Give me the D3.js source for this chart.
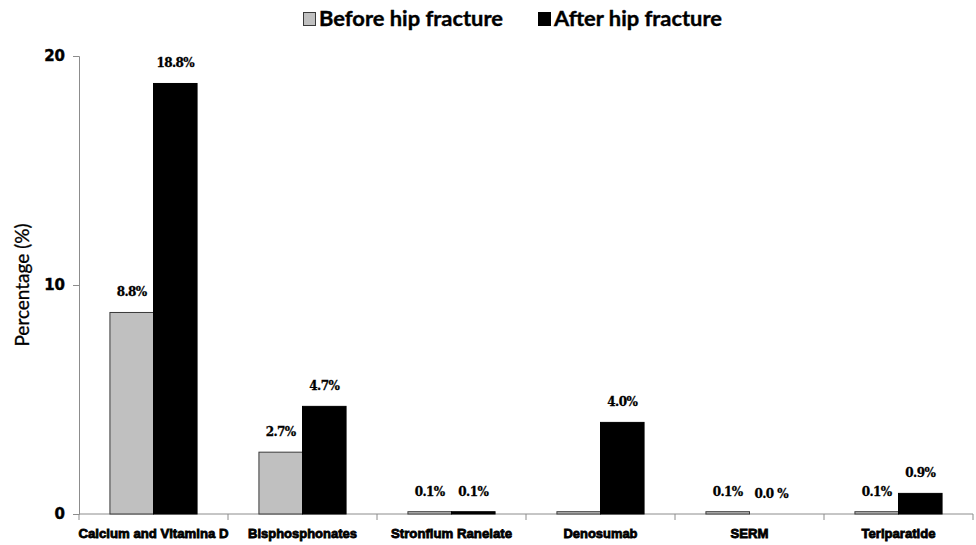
<!DOCTYPE html>
<html>
<head>
<meta charset="utf-8">
<script src="https://cdn.jsdelivr.net/npm/d3@7"></script>
<style>
  html, body { margin: 0; padding: 0; background: #fff; }
  svg { display: block; }
</style>
</head>
<body>
<svg id="chart" width="976" height="545"></svg>
<script>
// Osteoporosis treatment use before / after hip fracture
const categories = ["Calcium and Vitamina D", "Bisphosphonates", "Stronfium Ranelate", "Denosumab", "SERM", "Teriparatide"];
const beforeValues = [8.8, 2.7, 0.1, 0.1, 0.1, 0.1];
const afterValues = [18.8, 4.7, 0.1, 4.0, 0.0, 0.9];
const beforeLabels = ["8.8%", "2.7%", "0.1%", null, "0.1%", "0.1%"];
const afterLabels = ["18.8%", "4.7%", "0.1%", "4.0%", "0.0 %", "0.9%"];
const seriesNames = ["Before hip fracture", "After hip fracture"];
const yTicks = [0, 10, 20];

const svg = d3.select("#chart");
const margin = { left: 79, right: 3, top: 56, bottom: 31 };
const W = 976, H = 545;

const x = d3.scaleBand().domain(categories).range([margin.left, W - margin.right]).paddingInner(0).paddingOuter(0);
const inner = d3.scaleBand().domain([0, 1]).range([0, x.bandwidth()]).paddingInner(0).paddingOuter(0.71);
const y = d3.scaleLinear().domain([0, 20]).range([H - margin.bottom, margin.top]);

const fills = ["#c0c0c0", "#000000"];
const strokes = ["#3a3a3a", "#000000"];

// Y axis
const yAxis = svg.append("g")
  .attr("transform", `translate(${margin.left},0)`)
  .call(d3.axisLeft(y).tickValues(yTicks).tickSize(6).tickPadding(8).tickFormat(d3.format("d")));
yAxis.select(".domain").attr("stroke", "#8c8c8c");
yAxis.selectAll(".tick line").attr("stroke", "#8c8c8c");
yAxis.selectAll(".tick text")
  .attr("font-family", "DejaVu Sans, Verdana, sans-serif")
  .attr("font-weight", "bold")
  .attr("font-size", 15)
  .attr("stroke", "#000")
  .attr("stroke-width", 0.4)
  .attr("fill", "#000");

// X axis with ticks at the category boundaries
const xAxisG = svg.append("g").attr("transform", `translate(0,${y(0)})`);
xAxisG.append("line")
  .attr("x1", margin.left).attr("x2", W - margin.right)
  .attr("stroke", "#8c8c8c");
const boundaries = categories.map(c => x(c)).concat([x(categories[categories.length - 1]) + x.bandwidth()]);
xAxisG.selectAll("line.tk").data(boundaries).join("line")
  .attr("class", "tk")
  .attr("x1", d => d).attr("x2", d => d)
  .attr("y1", 0).attr("y2", 6)
  .attr("stroke", "#8c8c8c");

// Category labels (condensed heavy)
const labelWidths = [150, 109, 121, 74, 38, 74];
svg.append("g").selectAll("text").data(categories).join("text")
  .attr("x", d => x(d) + x.bandwidth() / 2)
  .attr("y", 538)
  .attr("text-anchor", "middle")
  .attr("font-family", "Liberation Sans Narrow, Arial Narrow, Liberation Sans, sans-serif")
  .attr("font-weight", "bold")
  .attr("font-size", 13)
  .attr("textLength", (d, i) => labelWidths[i])
  .attr("lengthAdjust", "spacingAndGlyphs")
  .attr("stroke", "#000")
  .attr("stroke-width", 0.8)
  .attr("fill", "#000")
  .text(d => d);

// Bars
const rows = categories.map((c, i) => ({ c, vals: [beforeValues[i], afterValues[i]], labs: [beforeLabels[i], afterLabels[i]] }));
const groups = svg.append("g").selectAll("g").data(rows).join("g")
  .attr("transform", d => `translate(${x(d.c)},0)`);

groups.selectAll("rect").data(d => d.vals.map((v, s) => ({ v, s }))).join("rect")
  .attr("x", d => inner(d.s))
  .attr("width", inner.bandwidth())
  .attr("y", d => y(d.v))
  .attr("height", d => y(0) - y(d.v))
  .attr("fill", d => fills[d.s])
  .attr("stroke", d => strokes[d.s])
  .attr("stroke-width", 1);

// Value labels
groups.selectAll("text").data(d => d.labs.map((l, s) => ({ l, s, v: d.vals[s] })).filter(d => d.l)).join("text")
  .attr("x", d => inner(d.s) + inner.bandwidth() / 2)
  .attr("y", d => y(d.v) - 16)
  .attr("text-anchor", "middle")
  .attr("font-family", "DejaVu Serif, Liberation Serif, serif")
  .attr("font-weight", "bold")
  .attr("font-size", 12)
  .attr("letter-spacing", -0.6)
  .attr("stroke", "#000")
  .attr("stroke-width", 0.3)
  .attr("fill", "#000")
  .text(d => d.l);

// Y axis title
svg.append("text")
  .attr("transform", `translate(29,${(y(0) + y(20)) / 2}) rotate(-90)`)
  .attr("text-anchor", "middle")
  .attr("font-family", "Lato, Open Sans, sans-serif")
  .attr("font-size", 19)
  .attr("stroke", "#000")
  .attr("stroke-width", 0.3)
  .attr("fill", "#000")
  .text("Percentage (%)");

// Legend
const legendX = [303, 538];
const legendW = [184, 168];
const legend = svg.append("g").selectAll("g").data(seriesNames).join("g")
  .attr("transform", (d, i) => `translate(${legendX[i]},12)`);
legend.append("rect")
  .attr("x", 0.5).attr("y", 0.5)
  .attr("width", 12).attr("height", 13)
  .attr("fill", (d, i) => fills[i])
  .attr("stroke", (d, i) => strokes[i]);
legend.append("text")
  .attr("x", 16).attr("y", 14)
  .attr("font-family", "Lato, Open Sans, sans-serif")
  .attr("font-weight", "bold")
  .attr("font-size", 21)
  .attr("textLength", (d, i) => legendW[i])
  .attr("lengthAdjust", "spacingAndGlyphs")
  .attr("stroke", "#000")
  .attr("stroke-width", 0.4)
  .attr("fill", "#000")
  .text(d => d);
</script>
</body>
</html>
